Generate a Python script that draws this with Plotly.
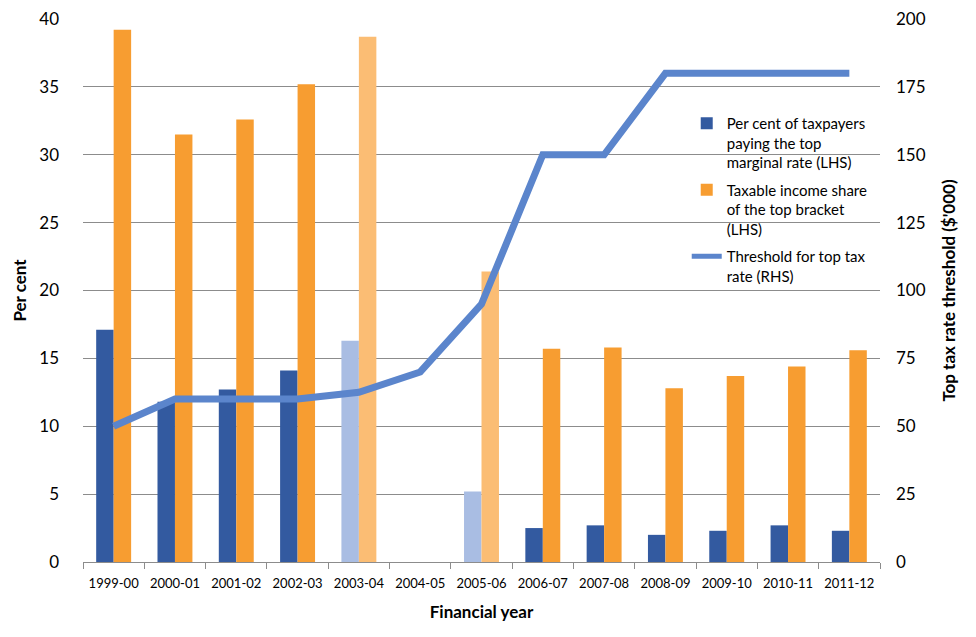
import plotly.graph_objects as go

years = ["1999-00", "2000-01", "2001-02", "2002-03", "2003-04", "2004-05", "2005-06",
         "2006-07", "2007-08", "2008-09", "2009-10", "2010-11", "2011-12"]
pct_taxpayers = [17.1, 11.8, 12.7, 14.1, 16.3, None, 5.2, 2.5, 2.7, 2.0, 2.3, 2.7, 2.3]
income_share = [39.2, 31.5, 32.6, 35.2, 38.7, None, 21.4, 15.7, 15.8, 12.8, 13.7, 14.4, 15.6]
threshold = [50, 60, 60, 60, 62.5, 70, 95, 150, 150, 180, 180, 180, 180]
estimated = [False, False, False, False, True, False, True, False, False, False, False, False, False]

DARK_BLUE = "#335AA0"
LIGHT_BLUE = "#A9BDE3"
ORANGE = "#F79D31"
LIGHT_ORANGE = "#FBBD74"
LINE_BLUE = "#5B85CC"

blue_cols = [LIGHT_BLUE if e else DARK_BLUE for e in estimated]
orange_cols = [LIGHT_ORANGE if e else ORANGE for e in estimated]

font = "Lato, Open Sans, sans-serif"

fig = go.Figure()
fig.add_trace(go.Bar(x=years, y=pct_taxpayers, marker_color=blue_cols, marker_line_width=0,
                     legendgroup="a",
                     name="Per cent of taxpayers<br>paying the top<br>marginal rate (LHS)"))
fig.add_trace(go.Bar(x=years, y=income_share, marker_color=orange_cols, marker_line_width=0,
                     legendgroup="b",
                     name="Taxable income share<br>of the top bracket<br>(LHS)"))
fig.add_trace(go.Scatter(x=years, y=threshold, yaxis="y2", mode="lines",
                         line=dict(color=LINE_BLUE, width=7), legendgroup="c",
                         name="Threshold for top tax<br>rate (RHS)"))

fig.update_layout(
    width=976, height=637,
    margin=dict(l=83, r=96, t=19, b=75, autoexpand=False),
    paper_bgcolor="white", plot_bgcolor="white",
    barmode="group", bargap=0.43, bargroupgap=0,
    font=dict(family=font, color="#000000"),
    showlegend=True,
    legend=dict(x=0.7575, y=0.838, xanchor="left", yanchor="top", valign="top",
                bgcolor="rgba(0,0,0,0)", font=dict(size=15, family=font),
                itemsizing="constant", tracegroupgap=5, traceorder="grouped"),
    xaxis=dict(type="category", showgrid=False, showline=True, linecolor="#8C8C8C",
               linewidth=1, ticks="outside", tickson="boundaries", ticklen=6,
               tickcolor="#8C8C8C", tickfont=dict(size=13), automargin=False,
               ticklabelstandoff=9,
               title=dict(text="<b>Financial year</b>", font=dict(size=17), standoff=16)),
    yaxis=dict(range=[0, 40], dtick=5, showgrid=True, gridcolor="#8C8C8C", gridwidth=1,
               zeroline=False, showline=False, tickfont=dict(size=17), automargin=False,
               ticks="", ticklabelstandoff=23,
               title=dict(text="<b>Per cent</b>", font=dict(size=17), standoff=8)),
    yaxis2=dict(range=[0, 200], dtick=25, overlaying="y", side="right", showgrid=False,
                zeroline=False, showline=False, tickfont=dict(size=17), automargin=False,
                ticks="", ticklabelstandoff=15,
                title=dict(text="<b>Top tax rate threshold ($'000)</b>", font=dict(size=17),
                           standoff=18)),
)

fig.write_html("out.html", config={"displayModeBar": False},
               post_script="document.body.style.margin='0';")
